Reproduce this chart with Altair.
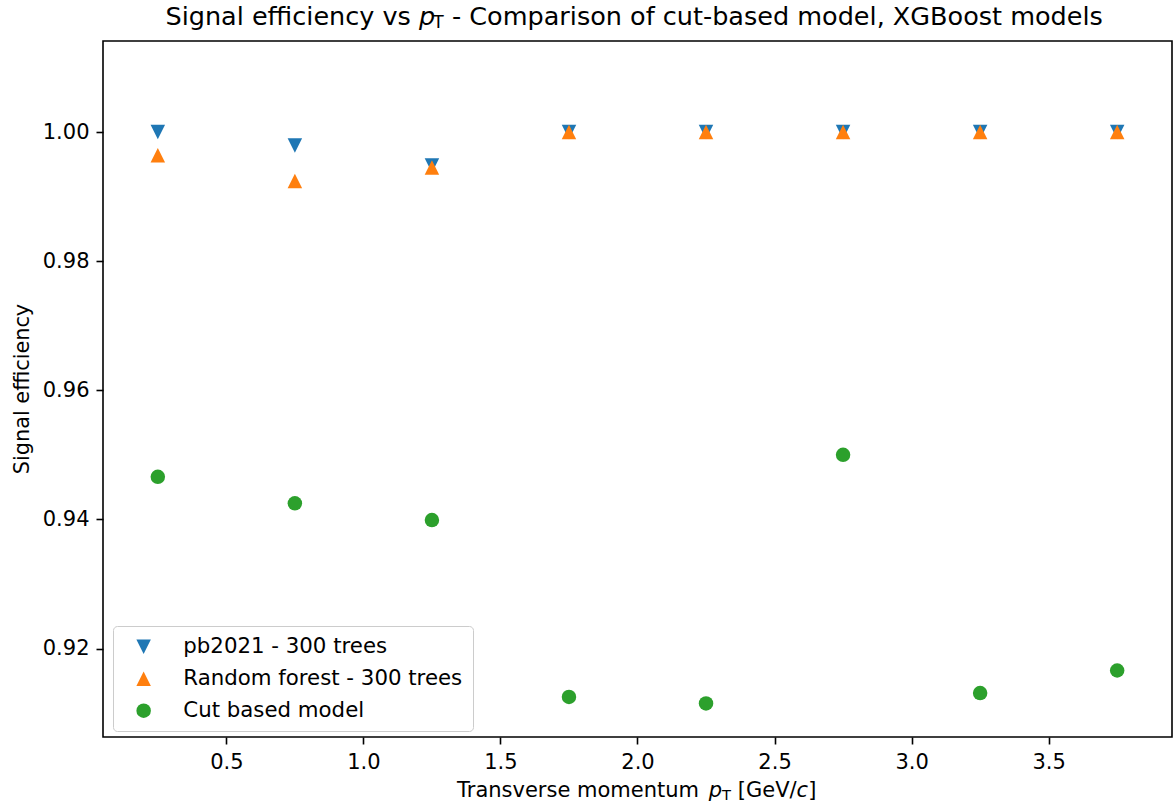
import altair as alt
import pandas as pd

# Transverse momentum bin centres [GeV/c]
pt_bins = [0.25, 0.75, 1.25, 1.75, 2.25, 2.75, 3.25, 3.75]

# Signal efficiency per pT bin for each model
eff_pb2021 = [1.000, 0.9979, 0.9948, 1.000, 1.000, 1.000, 1.000, 1.000]
eff_random_forest = [0.9964, 0.9924, 0.9945, 1.000, 1.000, 1.000, 1.000, 1.000]
eff_cut_based = [0.9466, 0.9425, 0.9399, 0.9125, 0.9115, 0.9500, 0.9131, 0.9166]

model_names = ["pb2021 - 300 trees", "Random forest - 300 trees", "Cut based model"]

x_ticks = [0.5, 1.0, 1.5, 2.0, 2.5, 3.0, 3.5]
y_ticks = [0.92, 0.94, 0.96, 0.98, 1.00]

# matplotlib-like styling
FONT = "DejaVu Sans"
model_colors = ["#1f77b4", "#ff7f0e", "#2ca02c"]
TRI_DOWN = "M-1,-1L1,-1L0,1Z"
TRI_UP = "M0,-1L1,1L-1,1Z"
model_shapes = [TRI_DOWN, TRI_UP, "circle"]

PLOT_W, PLOT_H = 1069, 696
PAD_L, PAD_T = 103, 41

rows = []
for name, values in zip(model_names, [eff_pb2021, eff_random_forest, eff_cut_based]):
    for pt, eff in zip(pt_bins, values):
        rows.append({"model": name, "pt": pt, "eff": eff, "idx": len(rows)})
df = pd.DataFrame(rows)

legend = alt.Legend(
    title=None,
    orient="none",
    legendX=10,
    legendY=585,
    padding=10,
    rowPadding=10,
    symbolOffset=10,
    labelOffset=29,
    symbolSize=210,
    symbolStrokeWidth=0,
    symbolOpacity=1,
    labelFontSize=21.3,
    labelFont=FONT,
    labelColor="black",
    labelLimit=0,
    fillColor="rgba(255,255,255,0.8)",
    strokeColor="#cccccc",
    cornerRadius=4,
)

points = alt.Chart(df).mark_point(filled=True, size=210, opacity=1, strokeWidth=0).encode(
    x=alt.X(
        "pt:Q",
        scale=alt.Scale(domain=[0.05, 3.95], nice=False, zero=False),
        axis=alt.Axis(values=x_ticks, format=".1f", title=None),
    ),
    y=alt.Y(
        "eff:Q",
        scale=alt.Scale(domain=[0.9063, 1.0141], nice=False, zero=False),
        axis=alt.Axis(values=y_ticks, format=".2f", title=None),
    ),
    color=alt.Color("model:N", scale=alt.Scale(domain=model_names, range=model_colors), legend=legend),
    shape=alt.Shape("model:N", scale=alt.Scale(domain=model_names, range=model_shapes), legend=legend),
    order=alt.Order("idx:Q"),
)

# Title and axis labels built from pieces (italic p, subscript T, italic c)
label_texts = [
    "Signal efficiency vs", "p", "T", "- Comparison of cut-based model, XGBoost models",
    "Transverse momentum", "p", "T", "[GeV/", "c", "]",
    "Signal efficiency",
]
# (x, y, size, style, angle, align) relative to the plot origin
label_layout = [
    (62.5, -16, 25.5, "normal", 0, "left"),
    (316, -16, 25.5, "italic", 0, "left"),
    (330, -13, 17.5, "normal", 0, "left"),
    (349, -16, 25.5, "normal", 0, "left"),
    (354, 756, 21, "normal", 0, "left"),
    (605.8, 756, 21, "italic", 0, "left"),
    (619.1, 759, 14.7, "normal", 0, "left"),
    (634.8, 756, 21, "normal", 0, "left"),
    (693.6, 756, 21, "italic", 0, "left"),
    (705.2, 756, 21, "normal", 0, "left"),
    (-74, 348, 20.8, "normal", 270, "center"),
]

label_layers = []
for text, (lx, ly, size, style, angle, align) in zip(label_texts, label_layout):
    label_layers.append(
        alt.Chart(pd.DataFrame({"t": [text]}))
        .mark_text(
            font=FONT,
            fontSize=size,
            fontStyle=style,
            angle=angle,
            align=align,
            baseline="alphabetic",
            color="black",
        )
        .encode(x=alt.value(lx), y=alt.value(ly), text="t:N")
    )

chart = (
    alt.layer(points, *label_layers)
    .properties(
        width=PLOT_W,
        height=PLOT_H,
        autosize=alt.AutoSizeParams(type="none"),
        padding={"left": PAD_L, "top": PAD_T, "right": 2, "bottom": 70},
        background="white",
    )
    .configure_view(stroke="black", strokeWidth=1.6)
    .configure_axis(
        domain=False,
        grid=False,
        ticks=True,
        tickColor="black",
        tickWidth=1.6,
        tickSize=7,
        labelPadding=7,
        labelFont=FONT,
        labelFontSize=21,
        labelColor="black",
    )
)

chart.save("out.html", embed_options={"renderer": "svg", "actions": False})
